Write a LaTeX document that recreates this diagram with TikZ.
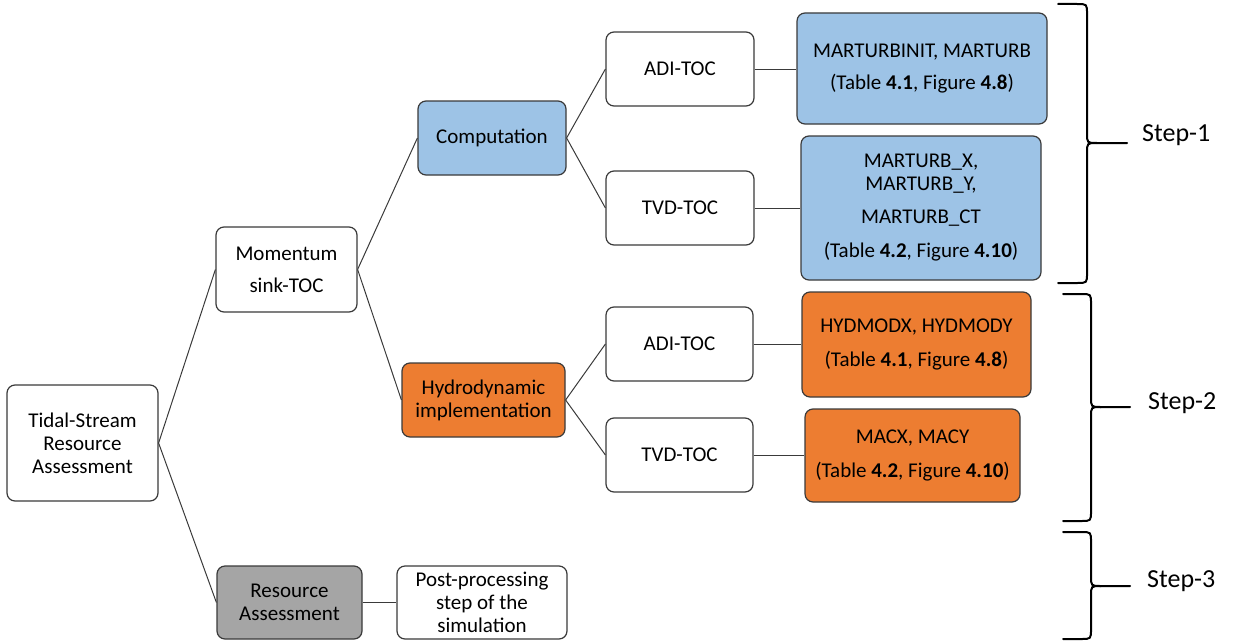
\documentclass[tikz,border=0pt]{standalone}
\usepackage{fontspec}
\setmainfont{Carlito}
\definecolor{boxblue}{HTML}{9DC3E6}
\definecolor{boxorange}{HTML}{ED7D31}
\definecolor{boxgray}{HTML}{A5A5A5}
\definecolor{edge}{HTML}{3A3A3A}
\tikzset{
  box/.style={draw=edge, line width=1.2pt, rounded corners=8pt, fill=white,
    align=center, inner sep=0pt, font=\fontsize{21}{23}\selectfont},
  bluebox/.style={box, fill=boxblue},
  orangebox/.style={box, fill=boxorange},
  graybox/.style={box, fill=boxgray},
  link/.style={draw=edge, line width=1pt},
  bracestyle/.style={line width=2pt, black, line cap=round},
  steplabel/.style={anchor=west, inner sep=0pt, font=\fontsize{26}{28}\selectfont}
}
% curly brace: #1 arm end x, #2 spine x, #3 tip x, #4 top y, #5 middle y, #6 bottom y
\newcommand{\stepbrace}[6]{%
  \draw[bracestyle] (#1,#4) -- (#2-10,#4) .. controls (#2,#4) .. (#2,#4+10)
    -- (#2,#5-10) .. controls (#2,#5) .. (#2+10,#5) -- (#3,#5);
  \draw[bracestyle] (#2+10,#5) .. controls (#2,#5) .. (#2,#5+10)
    -- (#2,#6-10) .. controls (#2,#6) .. (#2-10,#6) -- (#1,#6);
}
\begin{document}
\begin{tikzpicture}[x=1pt, y=-1pt]
\useasboundingbox (0,0) rectangle (1246,642);

% connectors (drawn first, boxes sit on top)
\coordinate (dummy) at (0,0);

% tree boxes
\node[box, minimum width=151pt, minimum height=116pt] (tidal) at (82.5,443)
  {Tidal-Stream\\Resource\\Assessment};
\node[box, minimum width=141pt, minimum height=85pt] (mom) at (286.5,269.5)
  {Momentum\\[9pt]sink-TOC};
\node[bluebox, minimum width=148pt, minimum height=74pt] (comp) at (492,138)
  {Computation};
\node[orangebox, minimum width=163pt, minimum height=74pt] (hydro) at (483.5,400)
  {Hydrodynamic\\implementation};
\node[graybox, minimum width=145pt, minimum height=73pt] (res) at (289.5,602.5)
  {Resource\\Assessment};
\node[box, minimum width=170pt, minimum height=73pt] (post) at (482,602.5)
  {Post-processing\\step of the\\simulation};

\node[box, minimum width=148pt, minimum height=74pt] (adi1) at (680,69) {ADI-TOC};
\node[box, minimum width=148pt, minimum height=74pt] (tvd1) at (680,208) {TVD-TOC};
\node[box, minimum width=147pt, minimum height=74pt] (adi2) at (679.5,344) {ADI-TOC};
\node[box, minimum width=147pt, minimum height=74pt] (tvd2) at (679.5,455) {TVD-TOC};

\node[bluebox, minimum width=250pt, minimum height=111pt] (m1) at (922,68.5)
  {MARTURBINIT, MARTURB\\[9pt](Table \textbf{4.1}, Figure \textbf{4.8})};
\node[bluebox, minimum width=240pt, minimum height=144pt] (m2) at (921,208)
  {MARTURB\_X,\\MARTURB\_Y,\\[10pt]MARTURB\_CT\\[11pt](Table \textbf{4.2}, Figure \textbf{4.10})};
\node[orangebox, minimum width=229pt, minimum height=105pt] (h1) at (916.5,344.5)
  {HYDMODX, HYDMODY\\[11pt](Table \textbf{4.1}, Figure \textbf{4.8})};
\node[orangebox, minimum width=215pt, minimum height=93pt] (h2) at (912.5,455.5)
  {MACX, MACY\\[11pt](Table \textbf{4.2}, Figure \textbf{4.10})};

% connectors
\draw[link] (tidal.east) -- (mom.west);
\draw[link] (tidal.east) -- (res.west);
\draw[link] (mom.east) -- (comp.west);
\draw[link] (mom.east) -- (hydro.west);
\draw[link] (comp.east) -- (adi1.west);
\draw[link] (comp.east) -- (tvd1.west);
\draw[link] (hydro.east) -- (adi2.west);
\draw[link] (hydro.east) -- (tvd2.west);
\draw[link] (adi1.east) -- (m1.west |- adi1.east);
\draw[link] (tvd1.east) -- (m2.west |- tvd1.east);
\draw[link] (adi2.east) -- (h1.west |- adi2.east);
\draw[link] (tvd2.east) -- (h2.west |- tvd2.east);
\draw[link] (res.east) -- (post.west);

% step braces and labels
\stepbrace{1058}{1087}{1127}{4}{143}{283}
\stepbrace{1063}{1091}{1130}{294}{407}{521}
\stepbrace{1063}{1091}{1130}{532}{586}{639}
\node[steplabel] (s1) at (1142,135) {Step-1};
\node[steplabel] (s2) at (1148,403) {Step-2};
\node[steplabel] (s3) at (1147,581) {Step-3};
\end{tikzpicture}
\end{document}
